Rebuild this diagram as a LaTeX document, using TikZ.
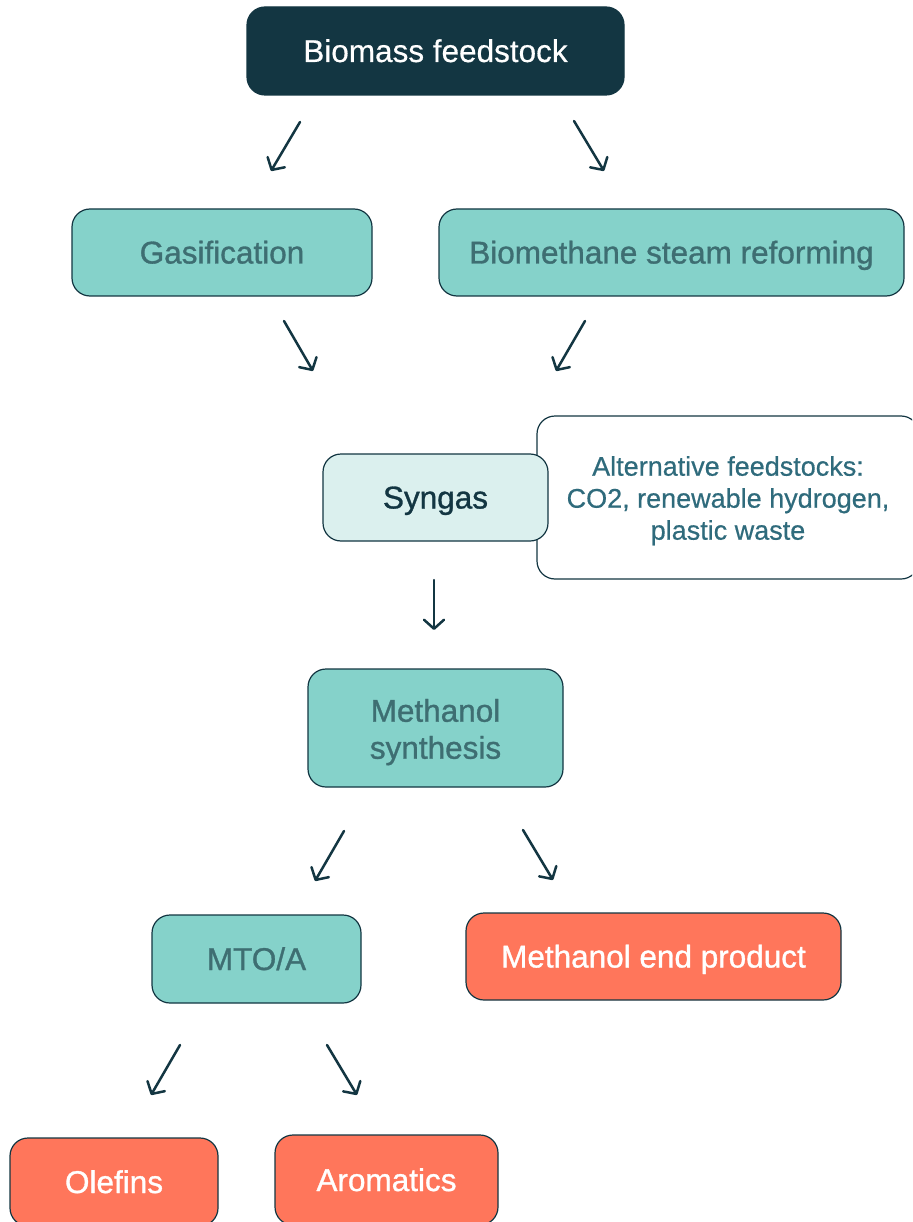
\documentclass[tikz,border=0pt]{standalone}
\usepackage{fontspec}
\setmainfont{Liberation Sans}
\newfontfamily\medfont[FakeBold=1.0]{Liberation Sans}
\newfontfamily\lightfont[FakeBold=0.5]{Liberation Sans}
\usetikzlibrary{arrows.meta}
\definecolor{darkteal}{HTML}{133642}
\definecolor{tealfill}{HTML}{85D2CA}
\definecolor{tealtext}{HTML}{3E6E72}
\definecolor{paleteal}{HTML}{DBF0EE}
\definecolor{alttext}{HTML}{2F6B7C}
\definecolor{coral}{HTML}{FF765B}
\tikzset{
  x=1pt, y=-1pt,
  box/.style={draw=darkteal, line width=1.2pt, rounded corners=18pt, align=center,
    inner sep=0pt, font=\lightfont\fontsize{31.5}{37}\selectfont},
  oneline/.style={text height=26pt, text depth=4pt},
  topbox/.style={box, oneline, fill=darkteal, text=white},
  procbox/.style={box, fill=tealfill, text=tealtext, font=\medfont\fontsize{31.5}{37}\selectfont},
  synbox/.style={box, oneline, fill=paleteal, text=darkteal, font=\medfont\fontsize{31.5}{37}\selectfont},
  altbox/.style={box, fill=white, text=alttext, font=\lightfont\fontsize{27}{32}\selectfont},
  endbox/.style={box, oneline, fill=coral, text=white, font=\medfont\fontsize{31.5}{37}\selectfont},
  flow/.style={draw=darkteal, line width=2.5pt, line cap=round,
    -{Straight Barb[length=9pt,width=20pt,line cap=round,line join=round]}}
}
\begin{document}
\begin{tikzpicture}
\useasboundingbox (0,0) rectangle (912,1222);
\clip (0,0) rectangle (912,1222);
\fill[white] (0,0) rectangle (912,1222);

\node[topbox, minimum width=377pt, minimum height=88pt] (bio) at (435.5,51) {Biomass feedstock};
\node[procbox, oneline, minimum width=300pt, minimum height=87pt] (gas) at (222,252.5) {Gasification};
\node[procbox, oneline, minimum width=465pt, minimum height=87pt] (bsr) at (671.5,252.5) {Biomethane steam reforming};
\node[altbox, minimum width=382pt, minimum height=163pt] (alt) at (728,497.5) {\rule{0pt}{26pt}Alternative feedstocks:\\CO2, renewable hydrogen,\\plastic waste};
\node[synbox, minimum width=225pt, minimum height=87pt] (syn) at (435.5,497.5) {Syngas};
\node[procbox, minimum width=255pt, minimum height=118pt] (meth) at (435.5,728) {\rule{0pt}{31pt}Methanol\\synthesis};
\node[procbox, oneline, minimum width=209pt, minimum height=88pt] (mto) at (256.5,959) {MTO/A};
\node[endbox, minimum width=375pt, minimum height=87pt] (mep) at (653.5,956.5) {Methanol end product};
\node[endbox, minimum width=208pt, minimum height=88pt] (ole) at (114,1182) {Olefins};
\node[endbox, minimum width=223pt, minimum height=90pt] (aro) at (386.5,1180) {Aromatics};

\coordinate (a1s) at (300,122); \coordinate (a1e) at (271,171);
\coordinate (a2s) at (574,121); \coordinate (a2e) at (604,171);
\coordinate (a3s) at (284,321); \coordinate (a3e) at (313,371);
\coordinate (a4s) at (585,321); \coordinate (a4e) at (556,371);
\coordinate (a5s) at (434,580); \coordinate (a5e) at (434,630);
\coordinate (a6s) at (344,831); \coordinate (a6e) at (315,881);
\coordinate (a7s) at (523,830); \coordinate (a7e) at (553,880);
\coordinate (a8s) at (180,1045); \coordinate (a8e) at (151,1095);
\coordinate (a9s) at (327,1045); \coordinate (a9e) at (357,1095);

\foreach \i in {1,...,9} {\draw[flow] (a\i s) -- (a\i e);}
\end{tikzpicture}
\end{document}
